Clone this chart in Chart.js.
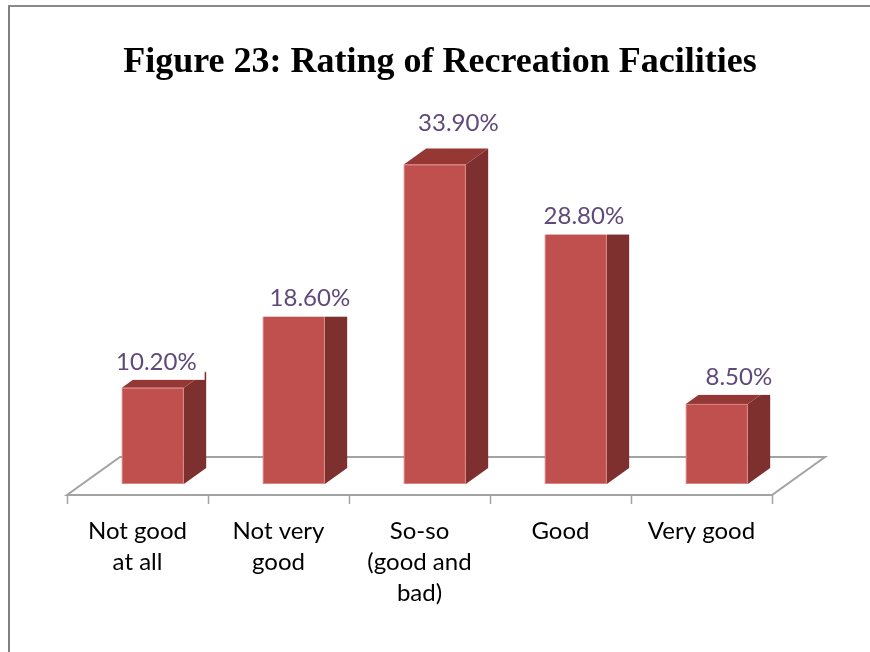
<!DOCTYPE html>
<html>
<head>
<meta charset="utf-8">
<script src="https://cdn.jsdelivr.net/npm/chart.js@4/dist/chart.umd.min.js"></script>
<style>
html,body{margin:0;padding:0;background:#fff;}
#wrap{position:relative;width:870px;height:652px;overflow:hidden;}
#frame{position:absolute;left:8px;top:5px;right:-4px;bottom:-4px;border-top:2px solid #8a8a8a;border-left:2px solid #808080;}
canvas{position:absolute;left:0;top:0;}
</style>
</head>
<body>
<div id="wrap"><div id="frame"></div><canvas id="c" width="870" height="652"></canvas></div>
<script>
// ---- data ----
const titleText = 'Figure 23: Rating of Recreation Facilities';
const categories = [['Not good','at all'], ['Not very','good'], ['So-so','(good and','bad)'], 'Good', 'Very good'];
const values = [10.2, 18.6, 33.9, 28.8, 8.5];
const valueLabels = ['10.20%', '18.60%', '33.90%', '28.80%', '8.50%'];
const axisMax = 40;

// ---- 3D column drawing plugin (uses the chart's own scales/elements) ----
const bar3d = {
  id: 'bar3d',
  beforeDatasetsDraw(chart, args, o) {
    const ctx = chart.ctx, xs = chart.scales.x, ys = chart.scales.y, ca = chart.chartArea;
    const y0 = ys.getPixelForValue(0);
    const front = y0 + o.gap, back = y0 - o.depth - o.gap;
    const shift = (front - back) * o.slope;
    ctx.save();
    // title
    ctx.fillStyle = '#000';
    ctx.font = o.titleFont;
    ctx.textAlign = 'center';
    ctx.textBaseline = 'alphabetic';
    ctx.fillText(titleText, o.titleX, o.titleY);
    // floor
    ctx.strokeStyle = o.floorColor;
    ctx.lineWidth = 2;
    ctx.lineJoin = 'miter';
    ctx.beginPath();
    ctx.moveTo(ca.left, front);
    ctx.lineTo(ca.right, front);
    ctx.lineTo(ca.right + shift, back);
    ctx.lineTo(ca.left + shift, back);
    ctx.closePath();
    ctx.stroke();
    // category boundary ticks
    const n = chart.data.labels.length;
    const cw = (ca.right - ca.left) / n;
    ctx.beginPath();
    for (let i = 0; i <= n; i++) {
      const x = Math.round(xs.getPixelForValue(0) - cw / 2 + i * cw) + 0.5;
      ctx.moveTo(x, front);
      ctx.lineTo(x, front + 9);
    }
    ctx.lineWidth = 1.5;
    ctx.stroke();
    ctx.restore();
  },
  afterDatasetsDraw(chart, args, o) {
    const ctx = chart.ctx;
    const meta = chart.getDatasetMeta(0);
    const gx = o.gap * o.slope;
    const dx = o.depth * o.slope, dy = o.depth;
    ctx.save();
    meta.data.forEach((el, i) => {
      const cx = el.x + gx, w = el.width, top = el.y, base = el.base;
      const l = cx - w / 2, r = cx + w / 2;
      // side
      ctx.fillStyle = o.sideColor;
      ctx.beginPath();
      ctx.moveTo(r, base); ctx.lineTo(r + dx, base - dy); ctx.lineTo(r + dx, top - dy); ctx.lineTo(r, top);
      ctx.closePath(); ctx.fill();
      // top
      ctx.fillStyle = o.topColor;
      ctx.beginPath();
      ctx.moveTo(l, top); ctx.lineTo(r, top); ctx.lineTo(r + dx, top - dy); ctx.lineTo(l + dx, top - dy);
      ctx.closePath(); ctx.fill();
      // front
      ctx.fillStyle = o.frontColor;
      ctx.fillRect(l, top, w, base - top);
      ctx.strokeStyle = 'rgba(230,170,168,0.6)';
      ctx.lineWidth = 1;
      ctx.strokeRect(l + 0.5, top + 0.5, w - 1, base - top - 1);
    });
    // data labels (white boxed, as in the original)
    ctx.font = o.labelFont;
    ctx.textAlign = 'center';
    ctx.textBaseline = 'middle';
    meta.data.forEach((el, i) => {
      const nudge = o.labelNudge[i] || [0, 0];
      const lx = el.x + gx + 15 + nudge[0];
      const ly = el.y - 27 + nudge[1];
      const tw = ctx.measureText(valueLabels[i]).width;
      ctx.fillStyle = '#fff';
      ctx.fillRect(lx - tw / 2 - 8, ly - 22, tw + 16, 41);
      ctx.fillStyle = o.labelColor;
      ctx.fillText(valueLabels[i], lx, ly + 1);
    });
    ctx.restore();
  }
};

new Chart(document.getElementById('c'), {
  type: 'bar',
  data: {
    labels: categories,
    datasets: [{
      data: values,
      backgroundColor: 'rgba(0,0,0,0)',
      borderWidth: 0,
      barPercentage: 0.44,
      categoryPercentage: 1
    }]
  },
  options: {
    responsive: false,
    animation: false,
    events: [],
    layout: { padding: { left: 67, right: 98, top: 107, bottom: 0 } },
    scales: {
      x: {
        offset: true,
        grid: { display: false, drawTicks: false },
        border: { display: false },
        ticks: {
          color: '#000',
          font: { family: 'Lato', size: 24, lineHeight: '31px' },
          padding: 32,
          maxRotation: 0,
          autoSkip: false
        },
        afterFit: s => { s.height = 168; }
      },
      y: { display: false, min: 0, max: axisMax }
    },
    plugins: {
      legend: { display: false },
      tooltip: { enabled: false },
      title: { display: false },
      bar3d: {
        gap: 11, depth: 16, slope: 53 / 38,
        frontColor: '#C0504D', sideColor: '#7E302E', topColor: '#943735',
        floorColor: '#a3a3a3',
        labelColor: '#5F497A', labelFont: '24px Lato',
        labelNudge: [[-11.5, 0], [1, 16], [8.5, -15], [-7, 30], [7, -1]],
        titleFont: 'bold 36px "Liberation Serif"', titleX: 440, titleY: 72
      }
    }
  },
  plugins: [bar3d]
});
</script>
</body>
</html>
